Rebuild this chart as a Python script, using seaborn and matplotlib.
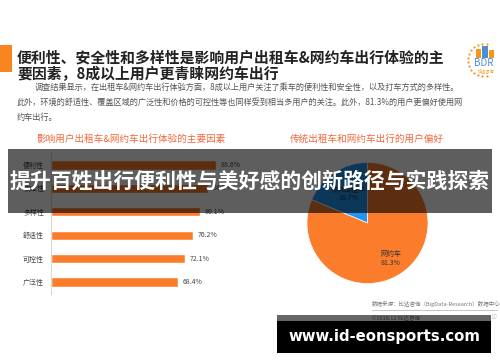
import numpy as np
import pandas as pd
import seaborn as sns
import matplotlib.pyplot as plt
from matplotlib.patches import Rectangle

# data
factors = ['便利性', '安全性', '多样性', '舒适性', '可控性', '广泛性']
factor_share = [88.6, 84.3, 80.1, 76.2, 72.1, 68.4]
pref_labels = ['传统出租车', '网约车']
pref_share = [18.7, 81.3]

title_lines = ['便利性、安全性和多样性是影响用户出租车&网约车出行体验的主',
               '要因素，8成以上用户更青睐网约车出行']
body_lines = ['调查结果显示，在出租车&网约车出行体验方面，8成以上用户关注了乘车的便利性和安全性，以及打车方式的多样性。',
              '此外，环境的舒适性、覆盖区域的广泛性和价格的可控性等也同样受到相当多用户的关注。此外，81.3%的用户更偏好使用网',
              '约车出行。']
bar_title = '影响用户出租车&网约车出行体验的主要因素'
pie_title = '传统出租车和网约车出行的用户偏好'
source_text = '数据来源：比达咨询（BigData-Research）数据中心'
copyright_text = '©2018.12 比达咨询'
banner_text = '提升百姓出行便利性与美好感的创新路径与实践探索'
site_text = 'www.id-eonsports.com'

ORANGE = '#FB7D2B'
BLUE = '#2196F3'
ACCENT = '#F2673A'

sns.set_theme(style='white')
plt.rcParams['font.family'] = ['Noto Sans CJK SC', 'DejaVu Sans']

W, H = 500, 362
fig = plt.figure(figsize=(W / 100, H / 100), dpi=100)
fig.patch.set_facecolor('white')


def px_axes(left, top, width, height, **kw):
    return fig.add_axes([left / W, 1 - (top + height) / H, width / W, height / H], **kw)


# slide background layer in pixel coordinates
bg = px_axes(0, 0, W, H)
bg.set_xlim(0, W)
bg.set_ylim(H, 0)
bg.axis('off')

bg.add_patch(Rectangle((0, 45), 12, 27, color='#F7841F', lw=0))
for i, line in enumerate(title_lines):
    bg.text(17, 57 + i * 17, line, fontsize=10.7, fontweight='bold',
            color='#222222', va='center', ha='left')
bg.text(35, 87, body_lines[0], fontsize=5.9, color='#555555', va='center')
bg.text(17, 102, body_lines[1], fontsize=5.9, color='#555555', va='center')
bg.text(17, 117, body_lines[2], fontsize=5.9, color='#555555', va='center')

# logo
ang = np.linspace(np.pi * 0.45, np.pi * 1.55, 14)
bg.scatter(484 + 16 * np.cos(ang), 60 - 16 * np.sin(ang), s=2.5, color='#F7941D', lw=0)
bg.add_patch(Rectangle((476, 49), 5, 9, color='#F7941D', lw=0))
bg.add_patch(Rectangle((482, 46), 6, 12, color='#4A90D9', lw=0))
bg.add_patch(Rectangle((489, 50), 5, 8, color='#F7941D', lw=0))
bg.text(474, 63, 'BDR', fontsize=7, color='#4A90D9', va='center', ha='left')
bg.text(478, 71, '比达咨询', fontsize=3, color='#F7941D', va='center', ha='left')

bg.text(131, 139, bar_title, fontsize=6.9, color=ACCENT, ha='center', va='center')
bg.text(367, 139, pie_title, fontsize=6.9, color=ACCENT, ha='center', va='center')

bg.text(372, 304, source_text, fontsize=4, color='#777777', va='center')
bg.plot([372, 497], [310, 310], color='#BBBBBB', lw=0.6)
bg.text(372, 317, copyright_text, fontsize=4, color='#777777', va='center')
bg.text(497, 317, '10', fontsize=4.5, color='#CCCCCC', va='center', ha='right')

# bar chart
ax_bar = px_axes(51, 153.3, 186, 140.4)
df = pd.DataFrame({'factor': factors, 'share': factor_share})
sns.barplot(data=df, x='share', y='factor', orient='h', color=ORANGE,
            width=0.4, saturation=1, ax=ax_bar)
ax_bar.set_xlim(0, 100)
ax_bar.set_xlabel('')
ax_bar.set_ylabel('')
ax_bar.set_xticks([])
ax_bar.tick_params(axis='y', length=0, labelsize=5, labelcolor='#444444', pad=5)
for s in ['top', 'right', 'bottom']:
    ax_bar.spines[s].set_visible(False)
ax_bar.spines['left'].set_color('#D9D9D9')
ax_bar.spines['left'].set_linewidth(0.8)
ax_bar.patch.set_alpha(0)
for i, v in enumerate(factor_share):
    ax_bar.text(v + 2.5, i, f'{v}%', fontsize=5, color='#444444', va='center')

# pie chart
ax_pie = px_axes(307, 162.5, 121, 121)
ax_pie.pie(pref_share, colors=[BLUE, ORANGE], startangle=90, counterclock=True,
           wedgeprops=dict(linewidth=0.5, edgecolor='white'))
ax_pie.set_xlim(-1, 1)
ax_pie.set_ylim(-1, 1)
ax_pie.set_aspect('equal')
start = 90
for lab, v, r in zip(pref_labels, pref_share, [0.58, 0.7]):
    mid = np.deg2rad(start + v * 3.6 / 2)
    start += v * 3.6
    ax_pie.text(r * np.cos(mid), r * np.sin(mid), f'{lab}\n{v}%', fontsize=5,
                color='#333333', ha='center', va='center', linespacing=1.1)

# overlays on top
top = px_axes(0, 0, W, H, zorder=10)
top.set_xlim(0, W)
top.set_ylim(H, 0)
top.axis('off')
top.patch.set_alpha(0)
top.add_patch(Rectangle((8, 149), 484, 64, color='black', alpha=0.63, lw=0))
top.text(250, 181, banner_text, fontsize=15, fontweight='bold', color='white',
         ha='center', va='center')
top.add_patch(Rectangle((277, 315), 214, 6, color='black', alpha=0.6, lw=0))
top.add_patch(Rectangle((277, 321), 214, 32, color='black', lw=0))
top.text(384, 337, site_text, fontsize=10.7, fontweight='bold', color='white',
         ha='center', va='center', family='DejaVu Sans')

fig.savefig('out.png', dpi=100)
